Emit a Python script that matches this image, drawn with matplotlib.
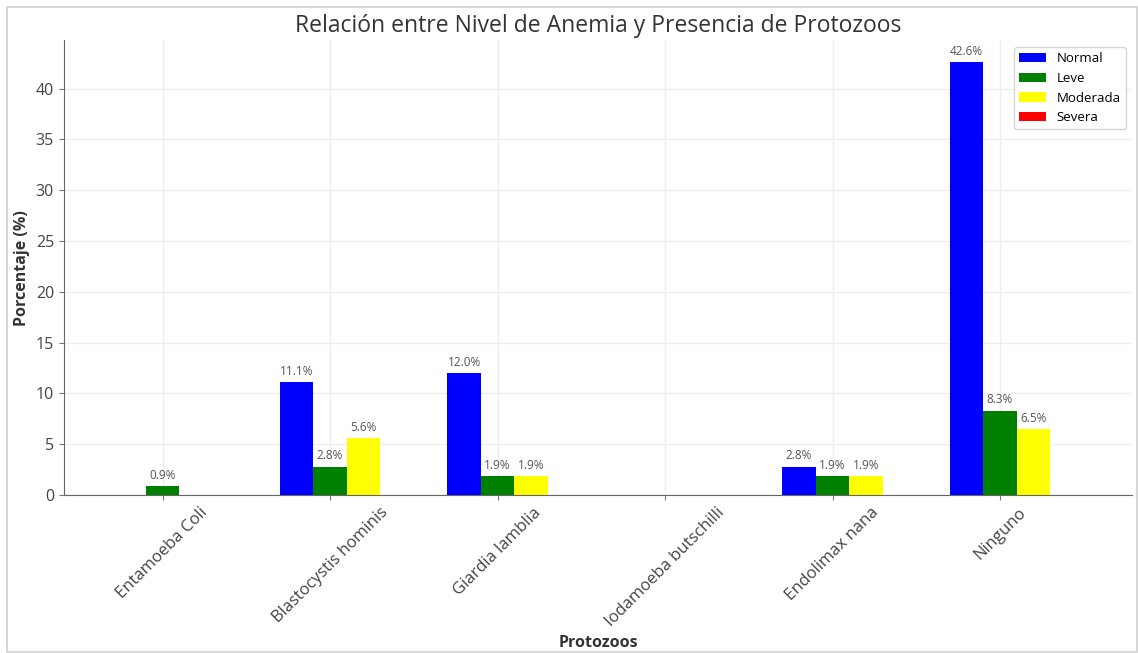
import numpy as np
import matplotlib.pyplot as plt
from matplotlib.patches import Rectangle

plt.rcParams['font.family'] = ['Open Sans', 'DejaVu Sans']

# Porcentaje de pacientes por protozoo y nivel de anemia
protozoos = ['Entamoeba Coli', 'Blastocystis hominis', 'Giardia lamblia',
             'Iodamoeba butschilli', 'Endolimax nana', 'Ninguno']
niveles = ['Normal', 'Leve', 'Moderada', 'Severa']
normal = [0.0, 11.1, 12.0, 0.0, 2.8, 42.6]
leve = [0.9, 2.8, 1.9, 0.0, 1.9, 8.3]
moderada = [0.0, 5.6, 1.9, 0.0, 1.9, 6.5]
severa = [0.0, 0.0, 0.0, 0.0, 0.0, 0.0]
colores = ['blue', 'green', 'yellow', 'red']

series = [normal, leve, moderada, severa]
x = np.arange(len(protozoos))
width = 0.2

fig, ax = plt.subplots(figsize=(11.38, 6.53), dpi=100)
# marco gris claro alrededor de la figura
fig.add_artist(Rectangle((7 / 1138, 0.002), 1 - 8 / 1138, 1 - 8 / 653,
                         transform=fig.transFigure, fill=False,
                         edgecolor='#d0d0d0', linewidth=1.2))

for i, (nivel, valores, color) in enumerate(zip(niveles, series, colores)):
    bars = ax.bar(x + (i - 1) * width, valores, width, label=nivel, color=color)
    for b, v in zip(bars, valores):
        if v > 0:
            ax.annotate(f'{v:.1f}%', (b.get_x() + b.get_width() / 2, v),
                        xytext=(0, 3), textcoords='offset points',
                        ha='center', va='bottom', fontsize=8.5, color='#555555')

ax.set_title('Relación entre Nivel de Anemia y Presencia de Protozoos',
             fontsize=16.5, color='#333333')
ax.set_xlabel('Protozoos', fontsize=11.5, fontweight='bold', color='#333333')
ax.set_ylabel('Porcentaje (%)', fontsize=11.5, fontweight='bold', color='#333333')
ax.set_xticks(x)
ax.set_xticklabels(protozoos, rotation=45, fontsize=12, color='#444444')
ax.tick_params(axis='y', labelsize=11.5, labelcolor='#444444', color='#777777')
ax.tick_params(axis='x', color='#777777')

ax.grid(True, color='#eeeeee', linewidth=1)
ax.set_axisbelow(True)
for s in ['top', 'right']:
    ax.spines[s].set_visible(False)
for s in ['left', 'bottom']:
    ax.spines[s].set_color('#666666')

ax.legend(loc='upper right', fontsize=9.5)

fig.subplots_adjust(left=0.056, right=0.995, top=0.938, bottom=0.242)
fig.savefig('out.png')
